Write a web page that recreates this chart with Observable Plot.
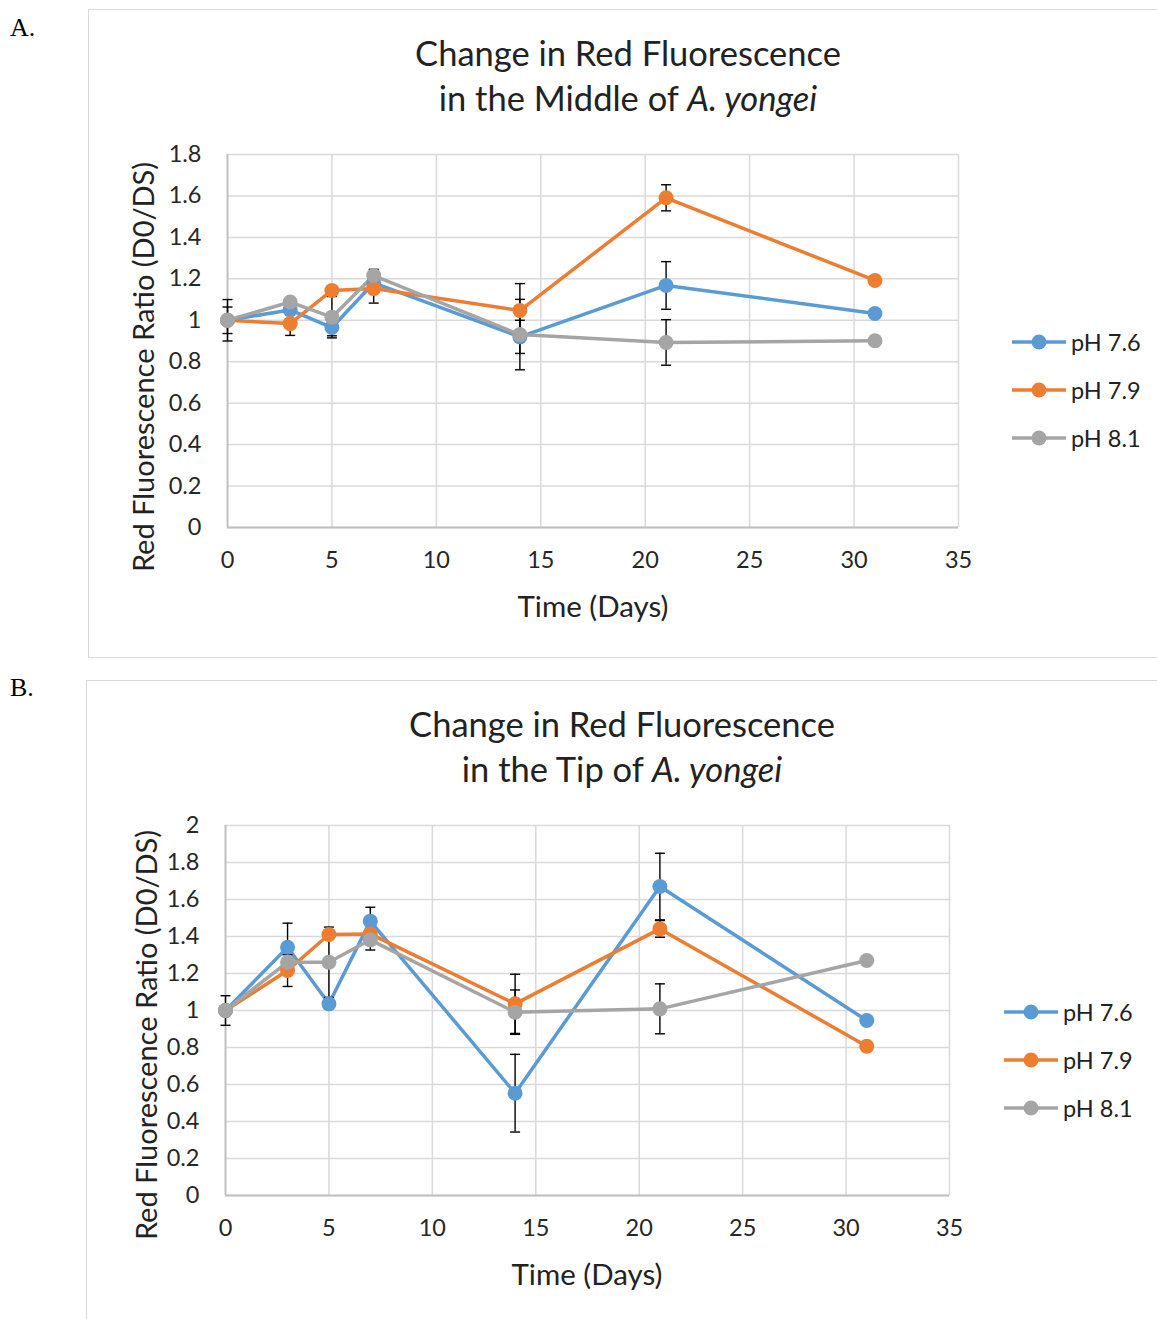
<!DOCTYPE html>
<html>
<head>
<meta charset="utf-8">
<script src="https://cdn.jsdelivr.net/npm/d3@7"></script>
<script src="https://cdn.jsdelivr.net/npm/@observablehq/plot@0.6"></script>
<style>
  html, body { margin: 0; padding: 0; background: #fff; }
  body { width: 1157px; height: 1319px; position: relative; overflow: hidden; font-family: Lato, "Open Sans", sans-serif; }
  .box { position: absolute; border: 1.5px solid #d9d9d9; box-sizing: border-box; }
  .plabel { position: absolute; font-family: "Liberation Serif", "Times New Roman", serif; font-size: 26px; color: #000; }
  .title { position: absolute; text-align: center; font-size: 34.5px; line-height: 45px; color: #222; white-space: nowrap; transform: translateX(-50%); }
  .xlab { position: absolute; font-size: 29.5px; color: #222; white-space: nowrap; transform: translate(-50%, -50%); }
  .ylab { position: absolute; font-size: 29px; color: #222; white-space: nowrap; transform: translate(-50%, -50%) rotate(-90deg); }
  .leg { position: absolute; display: flex; align-items: center; font-size: 23.5px; color: #222; white-space: nowrap; transform: translateY(-50%); }
  .leg svg { margin-right: 5px; }
</style>
</head>
<body>
<script>
// ---------- data ----------
const days = [0, 3, 5, 7, 14, 21, 31];
const seriesNames = ["pH 7.6", "pH 7.9", "pH 8.1"];
const seriesColors = ["#5B9BD5", "#ED7D31", "#A5A5A5"];
const xTicks = [0, 5, 10, 15, 20, 25, 30, 35];
const yTicksA = [0, 0.2, 0.4, 0.6, 0.8, 1, 1.2, 1.4, 1.6, 1.8];
const yTicksB = [0, 0.2, 0.4, 0.6, 0.8, 1, 1.2, 1.4, 1.6, 1.8, 2];

// Panel A: middle of A. yongei
const middle76 = [1.0, 1.05, 0.965, 1.18, 0.92, 1.168, 1.033];
const middle79 = [1.0, 0.984, 1.144, 1.153, 1.047, 1.591, 1.192];
const middle81 = [1.0, 1.088, 1.015, 1.216, 0.931, 0.893, 0.901];
const middleErr76 = [0.064, 0, 0.04, 0, 0.08, 0.115, 0];
const middleErr79 = [0.1, 0.057, 0, 0.07, 0.13, 0.063, 0];
const middleErr81 = [0, 0, 0.1, 0.03, 0.17, 0.11, 0];

// Panel B: tip of A. yongei
const tip76 = [1.0, 1.342, 1.036, 1.483, 0.553, 1.670, 0.946];
const tip79 = [1.0, 1.216, 1.411, 1.414, 1.036, 1.441, 0.807];
const tip81 = [1.0, 1.261, 1.261, 1.382, 0.991, 1.009, 1.270];
const tipErr76 = [0, 0.13, 0, 0.075, 0.21, 0.18, 0];
const tipErr79 = [0, 0.086, 0, 0, 0.16, 0.045, 0];
const tipErr81 = [0.08, 0, 0.19, 0.055, 0.12, 0.135, 0];

function rowsFor(valueArrays, errArrays) {
  const rows = [];
  seriesNames.forEach((s, i) => {
    days.forEach((d, j) => rows.push({ day: d, series: s, value: valueArrays[i][j], err: errArrays[i][j] }));
  });
  return rows;
}

const capSymbol = {
  draw(ctx, size) {
    const w = Math.sqrt(size / Math.PI);
    ctx.moveTo(-w, 0);
    ctx.lineTo(w, 0);
  }
};

function makeChart(rows, yDomain, yTicks, frame) {
  const mL = 60, mR = 12, mT = 12, mB = 50;
  const errRows = rows.filter(d => d.err > 0);
  const caps = errRows.flatMap(d => [{ day: d.day, y: d.value + d.err }, { day: d.day, y: d.value - d.err }]);
  const marks = [
    Plot.gridX(xTicks, { stroke: "#d9d9d9", strokeOpacity: 1, strokeWidth: 1.5 }),
    Plot.gridY(yTicks, { stroke: "#d9d9d9", strokeOpacity: 1, strokeWidth: 1.5 }),
    Plot.ruleX([0], { stroke: "#bfbfbf", strokeWidth: 1.8 }),
    Plot.ruleY([0], { stroke: "#bfbfbf", strokeWidth: 1.8 }),
    Plot.axisX({ ticks: xTicks, tickSize: 0, tickPadding: 24, label: null, tickFormat: d => String(d) }),
    Plot.axisY({ ticks: yTicks, tickSize: 0, tickPadding: 26, label: null, tickFormat: d => String(d) })
  ];
  seriesNames.forEach(s => {
    const sub = rows.filter(d => d.series === s);
    marks.push(Plot.line(sub, { x: "day", y: "value", stroke: "series", strokeWidth: 3.5 }));
  });
  marks.push(Plot.ruleX(errRows, { x: "day", y1: d => d.value - d.err, y2: d => d.value + d.err, stroke: "#000", strokeWidth: 1.4 }));
  marks.push(Plot.dot(caps, { x: "day", y: "y", symbol: capSymbol, r: 5, stroke: "#000", fill: "none", strokeWidth: 1.4 }));
  seriesNames.forEach(s => {
    const sub = rows.filter(d => d.series === s);
    marks.push(Plot.dot(sub, { x: "day", y: "value", fill: "series", r: 7.5, stroke: "none" }));
  });

  const svg = Plot.plot({
    width: frame.w + mL + mR,
    height: frame.h + mT + mB,
    marginLeft: mL, marginRight: mR, marginTop: mT, marginBottom: mB,
    x: { domain: [0, 35] },
    y: { domain: yDomain },
    color: { domain: seriesNames, range: seriesColors },
    style: { fontSize: "23.5px", fontFamily: "Lato, 'Open Sans', sans-serif", color: "#262626", background: "transparent", overflow: "visible" },
    marks
  });
  svg.style.position = "absolute";
  svg.style.left = (frame.x - mL) + "px";
  svg.style.top = (frame.y - mT) + "px";
  document.body.appendChild(svg);
}

function addHTML(html) {
  const tmp = document.createElement("div");
  tmp.innerHTML = html;
  while (tmp.firstChild) document.body.appendChild(tmp.firstChild);
}

function addLegend(x, ys) {
  seriesNames.forEach((s, i) => {
    const c = seriesColors[i];
    addHTML(`<div class="leg" style="left:${x}px; top:${ys[i]}px"><svg width="54" height="16"><line x1="0" y1="8" x2="54" y2="8" stroke="${c}" stroke-width="3.5"/><circle cx="27" cy="8" r="7.5" fill="${c}"/></svg>${s}</div>`);
  });
}

// Panel A
addHTML(`<div class="box" style="left:88px; top:9px; width:1080px; height:649px"></div>`);
addHTML(`<div class="plabel" style="left:10px; top:13px">A.</div>`);
addHTML(`<div class="title" style="left:628px; top:30px">Change in Red Fluorescence<br>in the Middle of <i>A. yongei</i></div>`);
makeChart(rowsFor([middle76, middle79, middle81], [middleErr76, middleErr79, middleErr81]), [0, 1.8], yTicksA, { x: 227, y: 154, w: 731, h: 373 });
addHTML(`<div class="xlab" style="left:593px; top:605px">Time (Days)</div>`);
addHTML(`<div class="ylab" style="left:142px; top:367px">Red Fluorescence Ratio (D0/DS)</div>`);
addLegend(1012, [342, 390, 438]);

// Panel B
addHTML(`<div class="box" style="left:86px; top:680px; width:1090px; height:660px"></div>`);
addHTML(`<div class="plabel" style="left:10px; top:673px">B.</div>`);
addHTML(`<div class="title" style="left:622px; top:701px">Change in Red Fluorescence<br>in the Tip of <i>A. yongei</i></div>`);
makeChart(rowsFor([tip76, tip79, tip81], [tipErr76, tipErr79, tipErr81]), [0, 2], yTicksB, { x: 225, y: 825, w: 724, h: 370 });
addHTML(`<div class="xlab" style="left:587px; top:1273px">Time (Days)</div>`);
addHTML(`<div class="ylab" style="left:145px; top:1035px">Red Fluorescence Ratio (D0/DS)</div>`);
addLegend(1004, [1012, 1060, 1108]);
</script>
</body>
</html>
